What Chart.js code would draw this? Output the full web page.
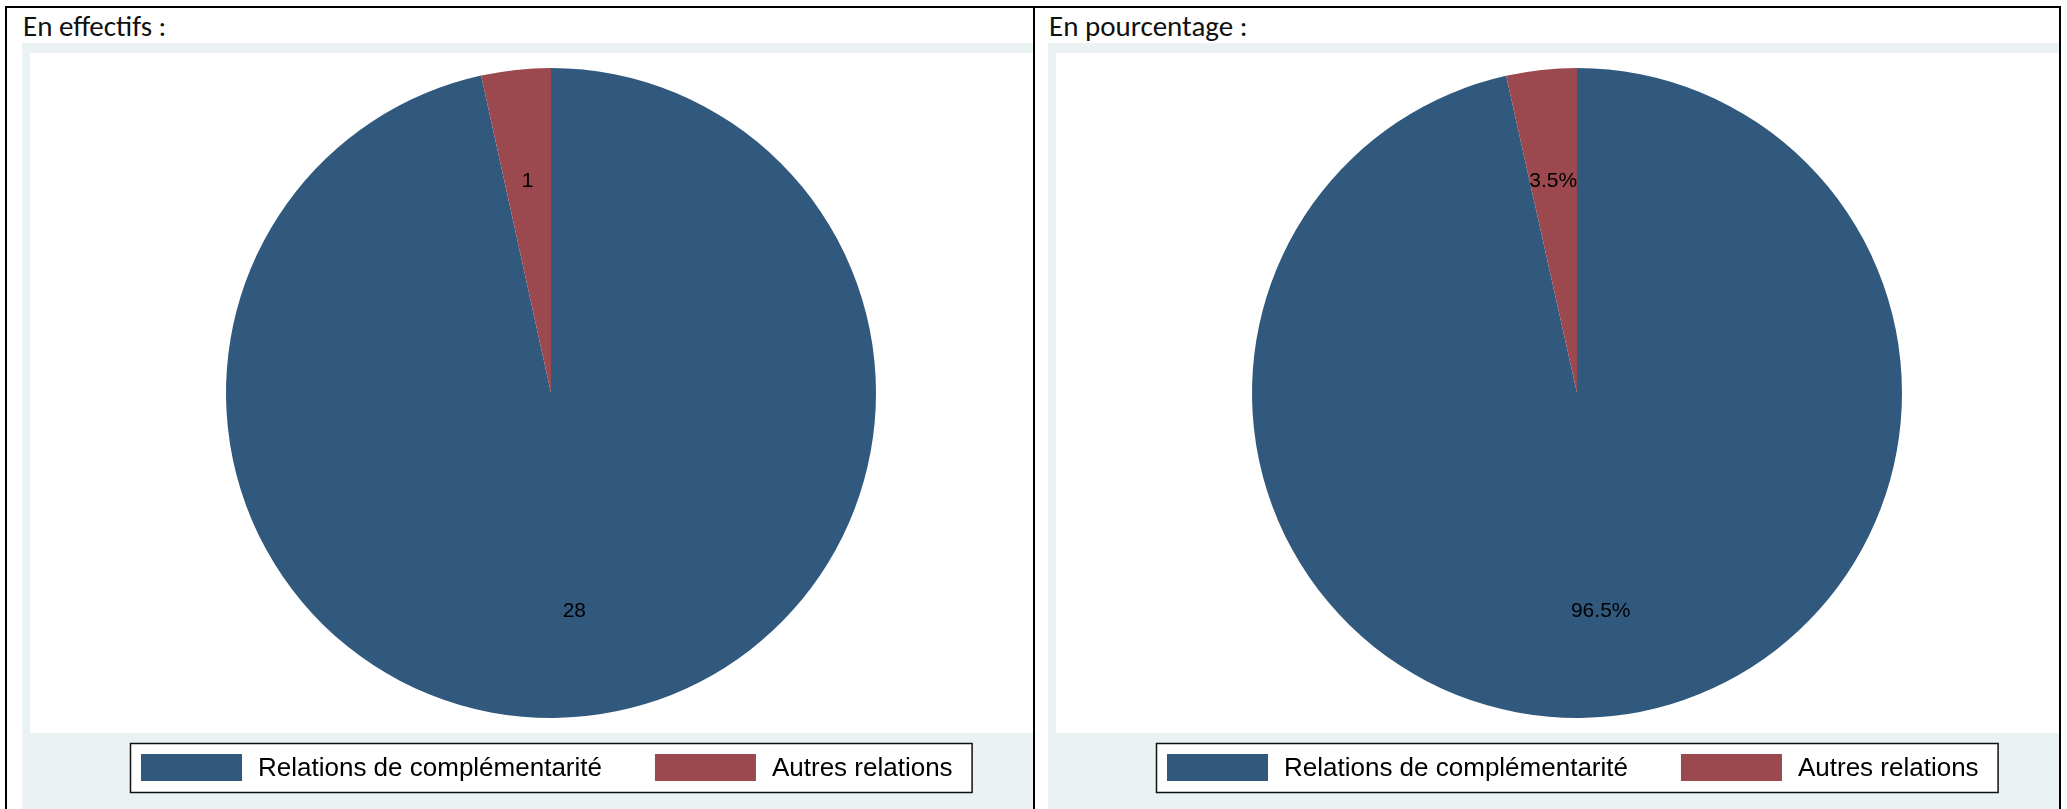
<!DOCTYPE html>
<html>
<head>
<meta charset="utf-8">
<script src="https://cdn.jsdelivr.net/npm/chart.js@4.4.1/dist/chart.umd.min.js"></script>
<style>
  html, body { margin:0; padding:0; background:#fff; width:2067px; height:809px; overflow:hidden; }
  #frame { position:absolute; left:5px; top:6px; width:2052px; height:900px; border:2px solid #000; }
  #divider { position:absolute; left:1033px; top:6px; width:2px; height:900px; background:#000; }
  .title { position:absolute; top:10px; font-family: Carlito, Calibri, Lato, "Open Sans", sans-serif; font-size:29px; line-height:32px; color:#111; white-space:nowrap; }
  .panel { position:absolute; top:43px; width:1011px; height:766px; overflow:hidden; background:#EAF2F3; }
  .panel canvas { position:absolute; left:0; top:0; }
</style>
</head>
<body>
<div id="frame"></div>
<div id="divider"></div>
<div class="title" style="left:23px;">En effectifs :</div>
<div class="title" style="left:1049px;">En pourcentage :</div>
<div class="panel" style="left:22px;"><canvas id="c1" width="1058" height="766"></canvas></div>
<div class="panel" style="left:1048px;"><canvas id="c2" width="1058" height="766"></canvas></div>
<script>
const categories = ["Relations de complémentarité", "Autres relations"];
const counts = [28, 1];
const percents = [96.5, 3.5];
const countLabels = counts.map(v => String(v));
const percentLabels = percents.map(v => v.toFixed(1) + "%");
const sliceColors = ["#31597D", "#9B494F"];

const LABEL_FONT = '21px "Liberation Sans", Arial, sans-serif';
const LEGEND_FONT = '26px "Liberation Sans", Arial, sans-serif';

const bgPlugin = {
  id: 'bg',
  beforeDraw(chart) {
    const ctx = chart.ctx, w = chart.width, h = chart.height;
    ctx.save();
    ctx.fillStyle = '#EAF2F3';
    ctx.fillRect(0, 0, w, h);
    ctx.fillStyle = '#FFFFFF';
    ctx.fillRect(8, 10, w - 16, 680);
    ctx.restore();
  }
};

const sliceLabelPlugin = {
  id: 'sliceLabels',
  afterDatasetsDraw(chart, args, opts) {
    const ctx = chart.ctx;
    const meta = chart.getDatasetMeta(0);
    const texts = opts.texts || [];
    ctx.save();
    ctx.font = LABEL_FONT;
    ctx.fillStyle = '#000';
    ctx.textAlign = 'center';
    ctx.textBaseline = 'middle';
    meta.data.forEach((arc, i) => {
      const p = arc.getProps(['x','y','startAngle','endAngle','outerRadius'], true);
      const mid = (p.startAngle + p.endAngle) / 2;
      const r = p.outerRadius * 0.665;
      ctx.fillText(texts[i], p.x + Math.cos(mid) * r, p.y + Math.sin(mid) * r + 3);
    });
    ctx.restore();
  }
};

const boxLegendPlugin = {
  id: 'boxLegend',
  afterDraw(chart) {
    const ctx = chart.ctx;
    const labels = chart.data.labels;
    const colors = chart.data.datasets[0].backgroundColor;
    ctx.save();
    ctx.font = LEGEND_FONT;
    const sw = 101, sh = 27, gapText = 16, gapItem = 53, padL = 11, padR = 19;
    const widths = labels.map(l => ctx.measureText(l).width);
    let total = padL + padR;
    widths.forEach((w, i) => { total += sw + gapText + w + (i < widths.length - 1 ? gapItem : 0); });
    const cx = (chart.chartArea.left + chart.chartArea.right) / 2;
    const left = Math.round(cx - total / 2);
    const top = 700, height = 49;
    ctx.fillStyle = '#fff';
    ctx.fillRect(left, top, total, height);
    ctx.strokeStyle = '#111';
    ctx.lineWidth = 1.5;
    ctx.strokeRect(left + 0.5, top + 0.5, total, height);
    let x = left + padL;
    const midY = top + height / 2;
    labels.forEach((l, i) => {
      ctx.fillStyle = colors[i];
      ctx.fillRect(x, 711, sw, sh);
      x += sw + gapText;
      ctx.fillStyle = '#000';
      ctx.textBaseline = 'middle';
      ctx.textAlign = 'left';
      ctx.fillText(l, x, midY + 1);
      x += widths[i] + gapItem;
    });
    ctx.restore();
  }
};

function makePie(id, values, texts) {
  return new Chart(document.getElementById(id), {
    type: 'pie',
    data: {
      labels: categories,
      datasets: [{
        data: values,
        backgroundColor: sliceColors,
        borderWidth: 0,
        hoverOffset: 0
      }]
    },
    options: {
      responsive: false,
      animation: false,
      devicePixelRatio: 1,
      layout: { padding: { top: 25, bottom: 91, left: 0, right: 0 } },
      plugins: {
        legend: { display: false },
        tooltip: { enabled: false },
        sliceLabels: { texts: texts }
      }
    },
    plugins: [bgPlugin, sliceLabelPlugin, boxLegendPlugin]
  });
}

makePie('c1', counts, countLabels);
makePie('c2', percents, percentLabels);
</script>
</body>
</html>
